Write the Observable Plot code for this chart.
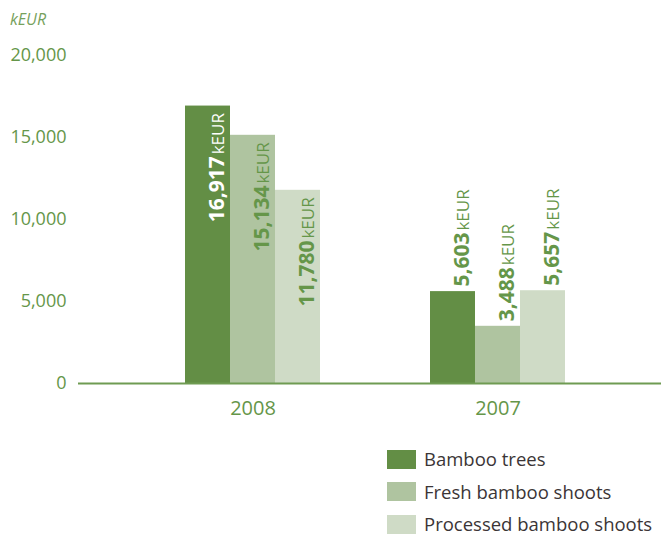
<!DOCTYPE html>
<html><head><meta charset="utf-8">
<script src="https://cdn.jsdelivr.net/npm/d3@7"></script>
<script src="https://cdn.jsdelivr.net/npm/@observablehq/plot@0.6"></script>
<style>
body{margin:0;background:#fff;font-family:"Open Sans",sans-serif;}
#wrap{position:relative;width:662px;height:535px;}
#unit{position:absolute;left:10px;top:8px;font-style:italic;font-size:16px;color:#76a15c;}
#chart{position:absolute;left:0;top:0;}
#legend{position:absolute;left:387px;top:443px;}
.item{display:flex;align-items:center;height:32.5px;}
.sw{width:29px;height:19px;margin-right:8px;flex:none;}
.lab{font-size:18.5px;line-height:20px;color:#3b3536;white-space:nowrap;}
</style>
</head><body>
<div id="wrap">
  <div id="chart"></div>
  <div id="unit">kEUR</div>
  <div id="legend"></div>
</div>
<script>
const years = ["2008", "2007"];
const seriesNames = ["Bamboo trees", "Fresh bamboo shoots", "Processed bamboo shoots"];
const bambooTrees = [16917, 5603];
const freshShoots = [15134, 3488];
const processedShoots = [11780, 5657];
const seriesColors = ["#638e45", "#afc4a0", "#cfdbc6"];
const yTicks = [0, 5000, 10000, 15000, 20000];

const green = "#659649";
const fmt = d3.format(",");
const allSeries = [bambooTrees, freshShoots, processedShoots];
const tables = allSeries.map(arr => years.map((y, j) => ({year: y, value: arr[j]})));

const marks = [];
tables.forEach((data, i) => {
  marks.push(Plot.barY(data, {
    x: "year", y: "value", fill: seriesColors[i],
    insetLeft: i * 45, insetRight: (2 - i) * 45
  }));
});
tables.forEach((data, i) => {
  const offset = (i - 1) * 45 + 1;
  marks.push(Plot.text(data.filter(d => d.year === "2008"), {
    x: "year", y: "value", text: d => fmt(d.value) + "kEUR",
    rotate: -90, textAnchor: "end", lineAnchor: "top",
    dx: offset, dy: 7, fontSize: 21,
    fill: i === 0 ? "#ffffff" : green
  }));
  marks.push(Plot.text(data.filter(d => d.year === "2007"), {
    x: "year", y: "value", text: d => fmt(d.value) + "kEUR",
    rotate: -90, textAnchor: "start", lineAnchor: "top",
    dx: offset, dy: -5, fontSize: 21, fill: green
  }));
});
marks.push(Plot.axisY({ticks: yTicks, tickSize: 0, tickPadding: 12, tickFormat: fmt, fontSize: 18, label: null}));
marks.push(Plot.axisX({tickSize: 0, tickPadding: 17, fontSize: 20, label: null}));
marks.push(Plot.ruleY([0], {stroke: "#6f9b52", strokeWidth: 2}));

const chart = Plot.plot({
  width: 662,
  height: 430,
  marginLeft: 78,
  marginRight: 1,
  marginTop: 55,
  marginBottom: 47,
  style: {fontFamily: "'Open Sans', sans-serif", color: green, background: "transparent"},
  x: {domain: years, range: [185, 565], paddingInner: 110 / 245, paddingOuter: 0},
  y: {domain: [0, 20000]},
  marks
});

chart.querySelectorAll("text").forEach(t => {
  const s = t.textContent;
  if (s.endsWith("kEUR") && s.length > 4) {
    const num = s.slice(0, -4);
    t.textContent = "";
    const a = document.createElementNS("http://www.w3.org/2000/svg", "tspan");
    a.setAttribute("font-weight", "700");
    a.setAttribute("font-size", "21px");
    a.textContent = num;
    const b = document.createElementNS("http://www.w3.org/2000/svg", "tspan");
    b.setAttribute("font-weight", "400");
    b.setAttribute("font-size", "17px");
    b.setAttribute("dx", "2");
    b.textContent = "kEUR";
    t.appendChild(a);
    t.appendChild(b);
  }
});
document.getElementById("chart").appendChild(chart);

const legend = d3.select("#legend");
seriesNames.forEach((name, i) => {
  const it = legend.append("div").attr("class", "item");
  it.append("div").attr("class", "sw").style("background", seriesColors[i]);
  it.append("span").attr("class", "lab").text(name);
});
</script>
</body></html>
